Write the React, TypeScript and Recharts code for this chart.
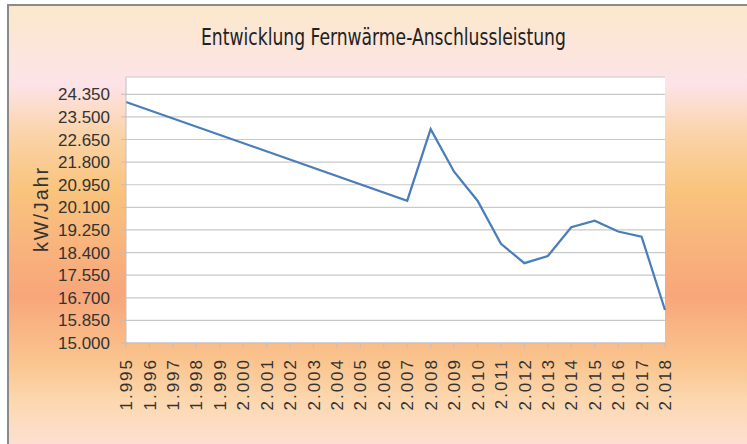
import { LineChart, Line, XAxis, YAxis, CartesianGrid, Label } from 'recharts';

const years = [
  1995, 1996, 1997, 1998, 1999, 2000, 2001, 2002, 2003, 2004, 2005, 2006,
  2007, 2008, 2009, 2010, 2011, 2012, 2013, 2014, 2015, 2016, 2017, 2018,
];
// kW, only 1995 and from 2007 on are known; the gap is bridged by connectNulls
const leistung = [
  24060, null, null, null, null, null, null, null, null, null, null, null,
  20350, 23040, 21440, 20350, 18730, 18000, 18270, 19350, 19600, 19190, 19000, 16240,
];
const yTicks = [15000, 15850, 16700, 17550, 18400, 19250, 20100, 20950, 21800, 22650, 23500, 24350];

const data = years.map((y, i) => ({ year: y, kw: leistung[i] }));

// German thousands separator: 1995 -> "1.995"
const fmt = (v: number) => String(v).replace(/\B(?=(\d{3})+(?!\d))/g, '.');

const FONT = '"Liberation Sans", Arial, sans-serif';

function YearTick({ x, y, payload }: any) {
  return (
    <g transform={`translate(${x},${y})`}>
      <text
        transform="rotate(-90)"
        textAnchor="end"
        dy="0.36em"
        fontSize={17}
        letterSpacing={2}
        fill="#333"
        fontFamily={FONT}
      >
        {fmt(payload.value)}
      </text>
    </g>
  );
}

export default function App() {
  return (
    <div style={{ position: 'fixed', left: 0, top: 0, width: 747, height: 444, overflow: 'hidden' }}>
      <style>{'html,body{margin:0;overflow:hidden}'}</style>
      <div
        style={{
          position: 'absolute',
          left: 7,
          top: 4,
          width: 760,
          height: 460,
          borderTop: '2px solid #8a8a8a',
          borderLeft: '2px solid #8a8a8a',
          background:
            'linear-gradient(180deg, #fbe8cb 0%, #fde3e8 17%, #fbd3a8 28%, #f9c47c 40%, #f8b07c 55%, #f8a67a 63%, #fac690 78%, #fcd8b0 86%, #fde3e3 100%)',
        }}
      />
      <div
        style={{
          position: 'absolute',
          left: 0,
          width: 767,
          top: 22,
          textAlign: 'center',
          fontFamily: '"DejaVu Sans Condensed", "DejaVu Sans", sans-serif',
          fontSize: 23,
          color: '#222',
          lineHeight: '30px',
          transform: 'scaleX(0.83)',
          transformOrigin: '383px 0',
        }}
      >
        Entwicklung Fernwärme-Anschlussleistung
      </div>
      <div style={{ position: 'absolute', left: 0, top: 0 }}>
        <LineChart width={747} height={444} data={data} margin={{ top: 77, right: 82, bottom: 0, left: 0 }}>
          <CartesianGrid vertical={false} fill="#ffffff" stroke="#c9c9c9" strokeWidth={1.2} />
          <XAxis
            dataKey="year"
            interval={0}
            tick={<YearTick />}
            tickSize={5}
            tickMargin={10}
            stroke="#bfbfbf"
            height={101}
          />
          <YAxis
            domain={[15000, 25000]}
            ticks={yTicks}
            interval={0}
            allowDataOverflow
            tickFormatter={fmt}
            tick={{ fontSize: 17, fill: '#333', fontFamily: FONT }}
            tickSize={5}
            tickMargin={11}
            stroke="#bfbfbf"
            width={126}
          >
            <Label
              content={() => (
                <text
                  x={48}
                  y={209}
                  transform="rotate(-90 48 209)"
                  textAnchor="middle"
                  fontSize={20}
                  letterSpacing={1.8}
                  fill="#333"
                  fontFamily={FONT}
                >
                  kW/Jahr
                </text>
              )}
            />
          </YAxis>
          <Line
            type="linear"
            dataKey="kw"
            stroke="#4a7ebb"
            strokeWidth={2.25}
            dot={false}
            connectNulls
            isAnimationActive={false}
          />
        </LineChart>
      </div>
    </div>
  );
}
